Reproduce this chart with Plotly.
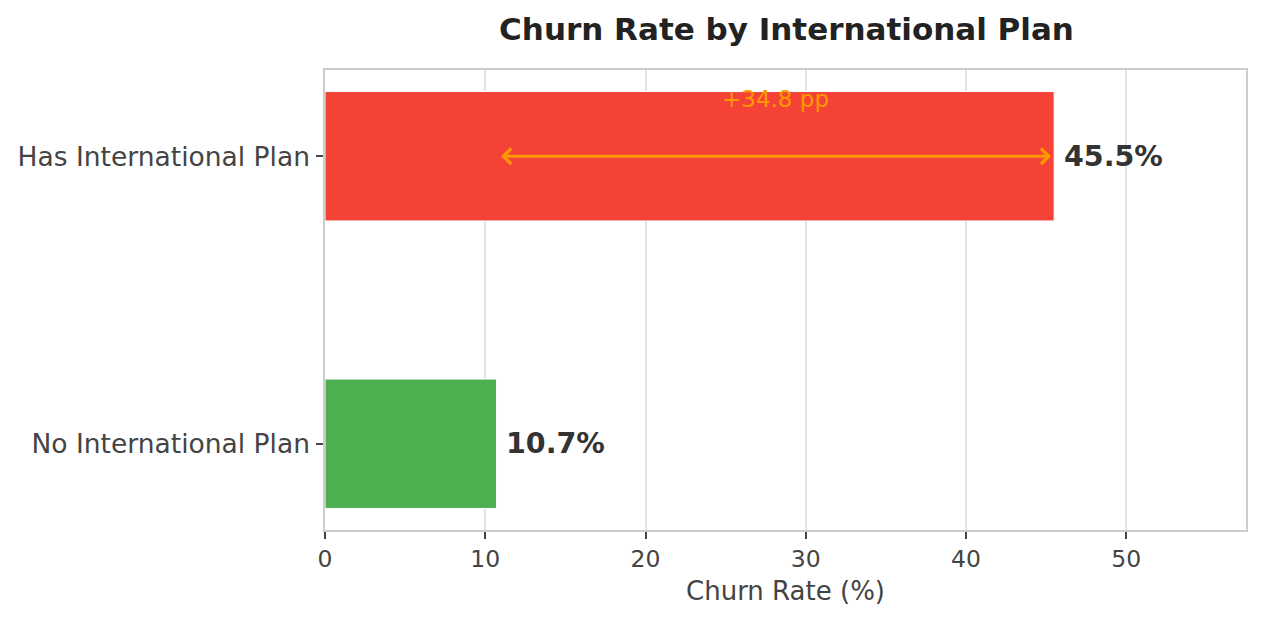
import plotly.graph_objects as go

# data
plans = ["No International Plan", "Has International Plan"]
churn_rates = [10.7, 45.5]
bar_colors = ["#4CAF50", "#F44336"]
x_ticks = [0, 10, 20, 30, 40, 50]

gap = churn_rates[1] - churn_rates[0]
font_family = "DejaVu Sans"

fig = go.Figure()

fig.add_trace(go.Bar(
    y=plans,
    x=churn_rates,
    orientation="h",
    width=0.45,
    marker=dict(color=bar_colors, line=dict(color="white", width=1)),
    hoverinfo="x+y",
    showlegend=False,
))

# value labels next to the bars
for plan, rate in zip(plans, churn_rates):
    fig.add_annotation(
        x=rate, y=plan, xref="x", yref="y",
        text=f"<b>{rate:.1f}%</b>",
        showarrow=False, xanchor="left", xshift=8,
        font=dict(family=font_family, size=28.5, color="#333333"),
    )

# double arrow showing the gap
fig.add_annotation(
    x=churn_rates[1], y=1, ax=churn_rates[0], ay=1,
    xref="x", yref="y", axref="x", ayref="y",
    text="", showarrow=True,
    arrowhead=4, startarrowhead=4, arrowside="end+start",
    arrowsize=1.0, startarrowsize=1.0, arrowwidth=3, arrowcolor="#FF9800",
    standoff=3, startstandoff=3,
)
fig.add_annotation(
    x=(churn_rates[0] + churn_rates[1]) / 2, y=1.2, xref="x", yref="y",
    text=f"+{gap:.1f} pp", showarrow=False,
    font=dict(family=font_family, size=23, color="#FF9800"),
)

fig.update_layout(
    width=1248, height=604,
    margin=dict(l=317, r=8, t=62, b=82),
    plot_bgcolor="white", paper_bgcolor="white",
    font=dict(family=font_family, color="#444444"),
    title=dict(
        text="<b>Churn Rate by International Plan</b>",
        x=(317 + 1240) / 2 / 1248, xanchor="center",
        y=1 - 21 / 604, yanchor="middle",
        font=dict(family=font_family, size=31, color="#222222"),
    ),
    xaxis=dict(
        range=[0, 57.47],
        tickvals=x_ticks,
        ticks="outside", ticklen=7, tickwidth=1.5, tickcolor="#444444",
        tickfont=dict(size=23.5, color="#444444"),
        showgrid=True, gridcolor="#e3e3e3", gridwidth=1.5,
        zeroline=False,
        showline=True, linecolor="#cccccc", linewidth=1.5, mirror=True,
        title=dict(text="Churn Rate (%)", font=dict(size=26, color="#444444"), standoff=10),
    ),
    yaxis=dict(
        range=[-0.3, 1.3],
        ticks="outside", ticklen=7, tickwidth=1.5, tickcolor="#444444",
        tickfont=dict(size=26.5, color="#444444"),
        ticklabelstandoff=1,
        showgrid=False, zeroline=False,
        showline=True, linecolor="#cccccc", linewidth=1.5, mirror=True,
    ),
)

fig.write_html("out.html")
